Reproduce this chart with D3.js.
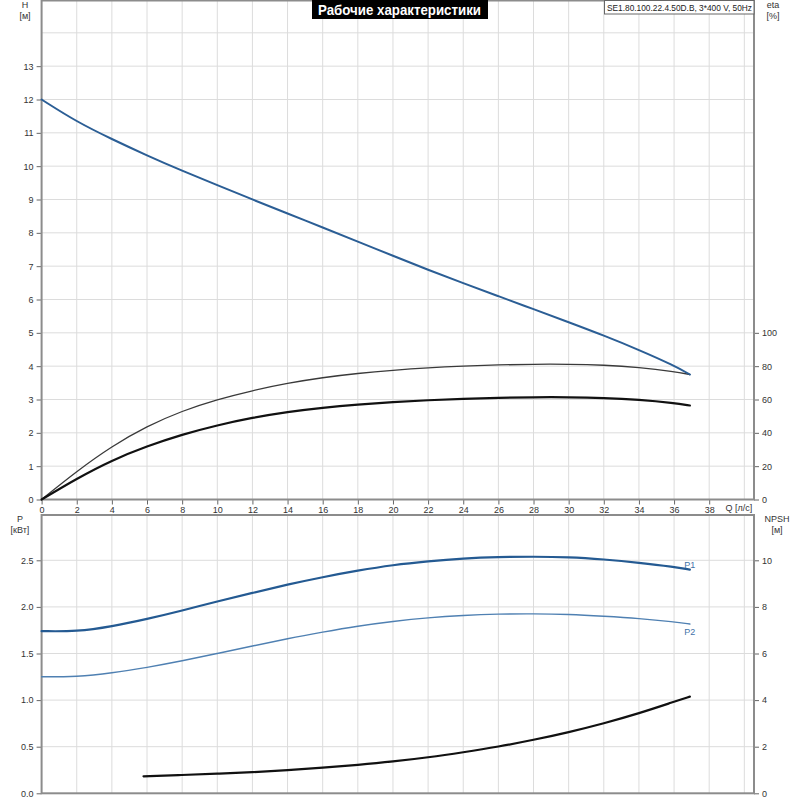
<!DOCTYPE html>
<html><head><meta charset="utf-8">
<script src="https://cdn.jsdelivr.net/npm/d3@7"></script>
<style>
html,body{margin:0;padding:0;background:#fff;}
svg{display:block;font-family:"Liberation Sans",Arial,sans-serif;}
</style></head>
<body><svg id="c" width="800" height="800"></svg>
<script>
// ---- data ----
const qTop = [0,2,4,6,8,10,12,14,16,18,20,22,24,26,28,30,32,34,36,36.9];
const headH = [12.0,11.33,10.81,10.32,9.86,9.43,9.0,8.58,8.16,7.74,7.31,6.89,6.49,6.1,5.71,5.32,4.92,4.49,4.02,3.75];
const etaPump = [0,17,32,44,53.2,60,65.4,69.8,73.2,75.7,77.6,79.1,80.1,80.8,81.2,81.2,80.7,79.3,76.8,75];
const etaTotal = [0,12.6,23.6,32,39,44.6,49.1,52.6,55.1,57,58.5,59.6,60.4,61,61.4,61.4,61,59.9,57.9,56.4];
const powerP1 = [1.74,1.735,1.79,1.87,1.96,2.06,2.15,2.24,2.32,2.39,2.45,2.49,2.52,2.535,2.54,2.535,2.51,2.475,2.43,2.40];
const powerP2 = [1.25,1.25,1.29,1.35,1.42,1.50,1.58,1.66,1.73,1.795,1.845,1.885,1.91,1.924,1.927,1.92,1.90,1.877,1.84,1.816];
const qNpsh = [5.8,8,10,12,14,16,18,20,22,24,26,28,30,32,34,36,36.9];
const npsh = [0.73,0.785,0.84,0.90,0.99,1.10,1.22,1.36,1.54,1.76,2.0,2.29,2.62,3.0,3.43,3.93,4.15];
const qTicks = d3.range(0,40,2);
const hTicks = d3.range(0,14,1);
const etaTicks = [0,20,40,60,80,100];
const pTicks = [0,0.5,1.0,1.5,2.0,2.5];
const npshTicks = [0,2,4,6,8,10];
const titleText = "Рабочие характеристики";
const modelText = "SE1.80.100.22.4.50D.B, 3*400 V, 50Hz";

// ---- layout ----
const svg = d3.select("#c");
const L = 41.6, R = 754;
const topT = 0.5, topB = 499.5, botT = 515, botB = 793.3;
const x = d3.scaleLinear().domain([0,40.55]).range([L,R]);
const yH = d3.scaleLinear().domain([0,15]).range([topB,topB-500]);
const yEta = d3.scaleLinear().domain([0,300]).range([topB,topB-500]);
const yP = d3.scaleLinear().domain([0,2.5]).range([botB,botB-233]);
const yN = d3.scaleLinear().domain([0,10]).range([botB,botB-233]);

const gridC = "#dcdcdc", frameC = "#8c8c8c", txtC = "#333";

// grids
function vgrid(y0,y1){
  svg.append("g").selectAll("line").data(d3.range(2,41,2)).join("line")
    .attr("x1",d=>x(d)).attr("x2",d=>x(d)).attr("y1",y0).attr("y2",y1)
    .attr("stroke",gridC).attr("stroke-width",1);
}
vgrid(topT,topB); vgrid(botT,botB);
svg.append("g").selectAll("line").data(d3.range(1,15,1)).join("line")
  .attr("x1",L).attr("x2",R).attr("y1",d=>yH(d)).attr("y2",d=>yH(d))
  .attr("stroke",gridC).attr("stroke-width",1);
svg.append("g").selectAll("line").data(pTicks.slice(1)).join("line")
  .attr("x1",L).attr("x2",R).attr("y1",d=>yP(d)).attr("y2",d=>yP(d))
  .attr("stroke",gridC).attr("stroke-width",1);

// axes
function styleAxis(g){
  g.select(".domain").remove();
  g.selectAll(".tick line").attr("stroke","#666");
  g.selectAll(".tick text").attr("fill",txtC).style("font-size","9px")
    .style("font-family","'Liberation Sans',Arial,sans-serif");
}
svg.append("g").attr("transform",`translate(${L},0)`)
  .call(d3.axisLeft(yH).tickValues(hTicks).tickSize(5).tickPadding(3).tickFormat(d3.format("d"))).call(styleAxis);
svg.append("g").attr("transform",`translate(${R},0)`)
  .call(d3.axisRight(yEta).tickValues(etaTicks).tickSize(5).tickPadding(3).tickFormat(d3.format("d"))).call(styleAxis);
svg.append("g").attr("transform",`translate(0,${topB})`)
  .call(d3.axisBottom(x).tickValues(qTicks).tickSize(5).tickPadding(2).tickFormat(d3.format("d"))).call(styleAxis);
svg.append("g").attr("transform",`translate(${L},0)`)
  .call(d3.axisLeft(yP).tickValues(pTicks).tickSize(5).tickPadding(3).tickFormat(d3.format(".1f"))).call(styleAxis);
svg.append("g").attr("transform",`translate(${R},0)`)
  .call(d3.axisRight(yN).tickValues(npshTicks).tickSize(5).tickPadding(3).tickFormat(d3.format("d"))).call(styleAxis);

// frames
svg.append("rect").attr("x",L).attr("y",topT).attr("width",R-L).attr("height",topB-topT)
  .attr("fill","none").attr("stroke",frameC).attr("stroke-width",2);
svg.append("rect").attr("x",L).attr("y",botT).attr("width",R-L).attr("height",botB-botT)
  .attr("fill","none").attr("stroke",frameC).attr("stroke-width",2);

// curves
function curve(xs,ys,ysc,color,w){
  const line = d3.line().x((d,i)=>x(xs[i])).y(d=>ysc(d)).curve(d3.curveBasis);
  svg.append("path").datum(ys).attr("d",line).attr("fill","none")
    .attr("stroke",color).attr("stroke-width",w).attr("stroke-linecap","round");
}
curve(qTop,etaPump,yEta,"#3a3a3a",1.3);
curve(qTop,etaTotal,yEta,"#111",2.2);
curve(qTop,headH,yH,"#2b5e95",2);
curve(qTop,powerP2,yP,"#4f80b2",1.4);
curve(qTop,powerP1,yP,"#245a92",2.2);
curve(qNpsh,npsh,yN,"#111",2.2);

// curve labels
const lbl = svg.append("g").style("font-size","9px").attr("fill","#3f72a8");
lbl.append("text").attr("x",x(36.9)).attr("y",yP(powerP1[powerP1.length-1])-2).attr("text-anchor","middle").text("P1");
lbl.append("text").attr("x",x(36.9)).attr("y",yP(powerP2[powerP2.length-1])+11).attr("text-anchor","middle").text("P2");

// axis titles
const at = svg.append("g").style("font-size","9px").attr("fill",txtC).attr("text-anchor","middle");
at.append("text").attr("x",25).attr("y",8).text("H");
at.append("text").attr("x",25).attr("y",19).text("[м]");
at.append("text").attr("x",773).attr("y",8).text("eta");
at.append("text").attr("x",773).attr("y",19).text("[%]");
at.append("text").attr("x",20).attr("y",522).text("P");
at.append("text").attr("x",20).attr("y",533).text("[кВт]");
at.append("text").attr("x",777).attr("y",522).text("NPSH");
at.append("text").attr("x",777).attr("y",533).text("[м]");
svg.append("text").attr("x",739).attr("y",511).attr("text-anchor","middle")
  .style("font-size","9px").attr("fill",txtC).text("Q [л/с]");

// title
svg.append("rect").attr("x",312).attr("y",0).attr("width",176).attr("height",19).attr("fill","#000");
svg.append("text").attr("x",318).attr("y",15).attr("fill","#fff")
  .style("font-family","'Liberation Sans',Arial,sans-serif")
  .style("font-weight","bold").style("font-size","15px")
  .attr("textLength",163).attr("lengthAdjust","spacingAndGlyphs").text(titleText);

// model box
svg.append("rect").attr("x",604.5).attr("y",0.5).attr("width",149.5).attr("height",13.5)
  .attr("fill","#fff").attr("stroke","#666").attr("stroke-width",1);
svg.append("text").attr("x",607).attr("y",10.5).attr("fill","#222")
  .style("font-size","8.6px").attr("textLength",145).attr("lengthAdjust","spacingAndGlyphs").text(modelText);
</script></body></html>
